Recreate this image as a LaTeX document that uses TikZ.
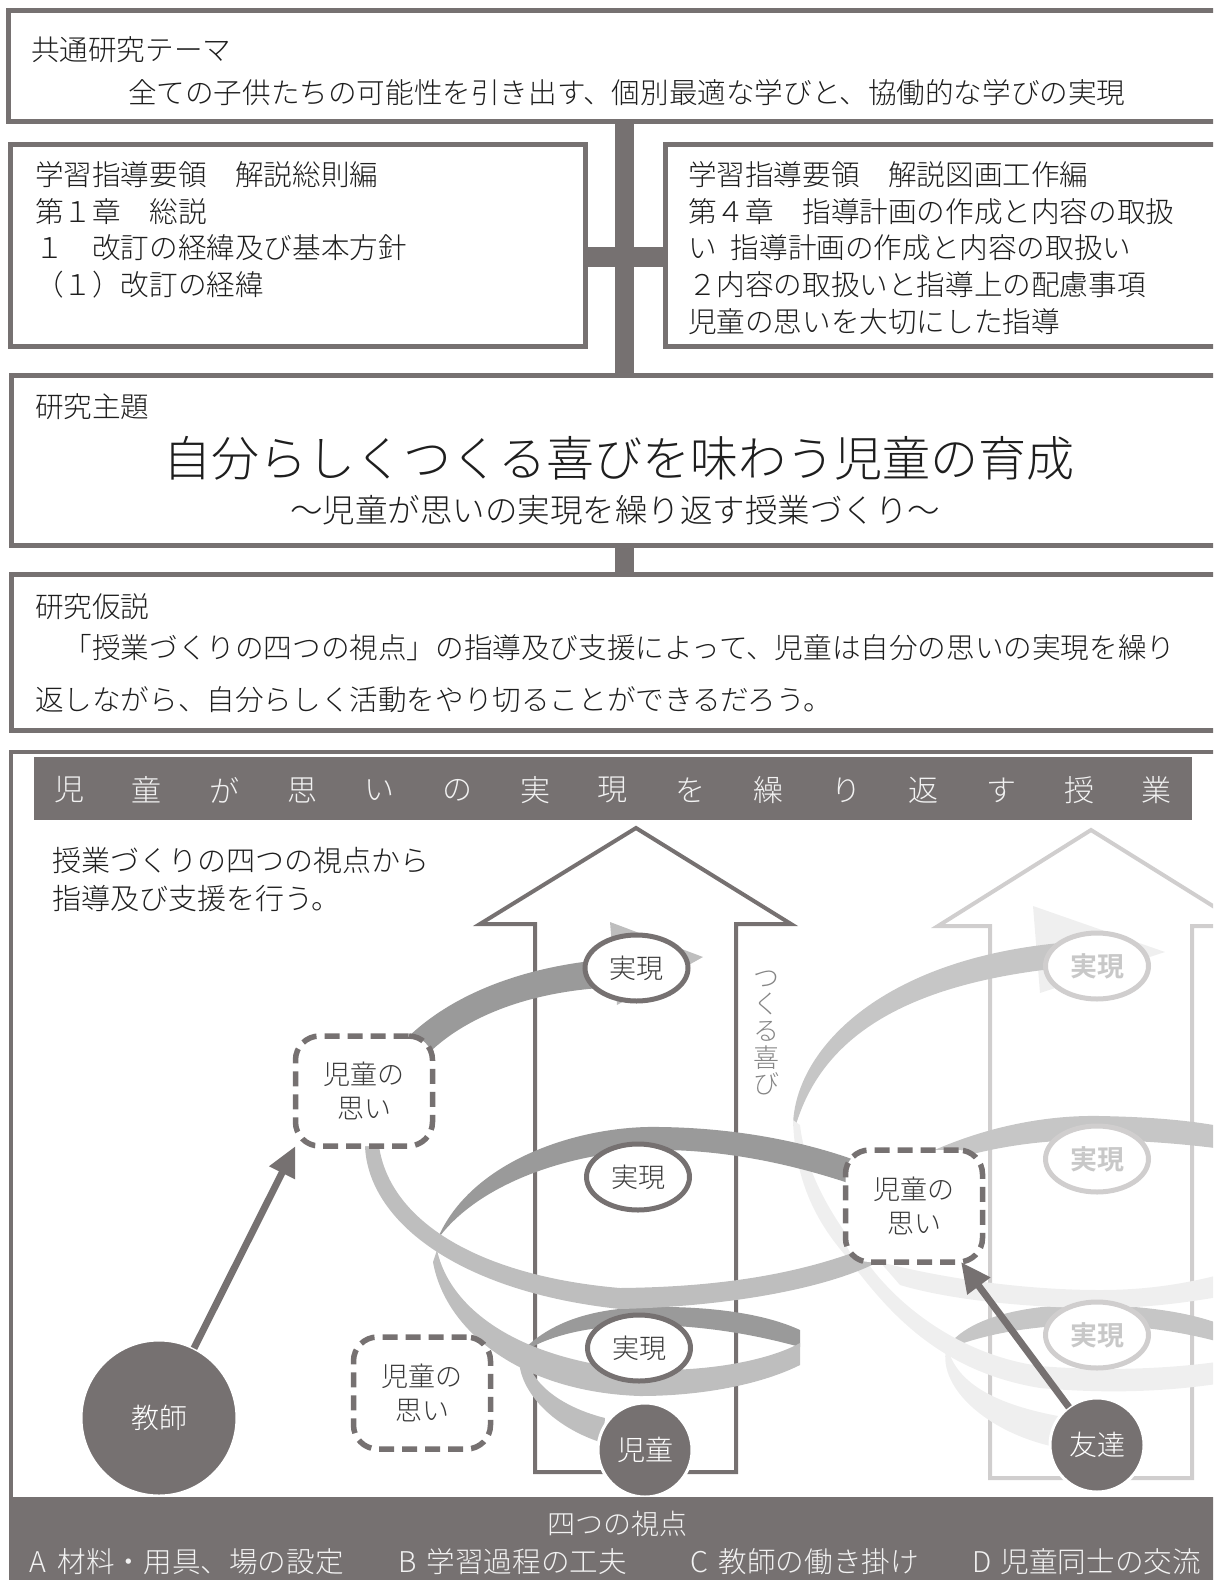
\documentclass[tikz,border=0pt]{standalone}
\usepackage{fontspec}
\setmainfont{Noto Sans CJK JP}[UprightFont=* Light,BoldFont=* Bold]
\usetikzlibrary{shapes.geometric,arrows.meta,calc}
\definecolor{dg}{HTML}{767171}
\definecolor{tx}{HTML}{1E1E1E}
\definecolor{tx2}{HTML}{3A3A3A}
\definecolor{ribD}{HTML}{9A9A9A}
\definecolor{ribL}{HTML}{BEBEBE}
\definecolor{RB}{HTML}{C6C6C6}
\definecolor{RF}{HTML}{EFEFEF}
\definecolor{lgb}{HTML}{D0CECE}
\definecolor{lgt}{HTML}{C8C8C8}
\definecolor{joyc}{HTML}{858585}
\newcommand\fsz[1]{\fontsize{#1bp}{#1bp}\selectfont}
\begin{document}
\begin{tikzpicture}[x=1bp,y=-1bp,
  every node/.style={inner sep=0pt,outer sep=0pt},
  frame/.style={rectangle,draw=dg,line width=5bp},
  lbl/.style={anchor=west,text=tx,font=\fsz{28.6}},
  realize/.style={ellipse,draw=dg,fill=white,line width=5bp,minimum width=103bp,minimum height=66bp,text=tx2,font=\fsz{27}},
  realizeL/.style={realize,draw=lgb,text=lgt,font=\fsz{27}\bfseries},
  omoi/.style={rectangle,rounded corners=24bp,draw=dg,fill=white,line width=5.5bp,dash pattern=on 15bp off 8bp,minimum width=137bp,minimum height=110bp,align=center,text=tx2,font=\fontsize{27bp}{34bp}\selectfont},
  person/.style={circle,fill=dg,draw=white,line width=3bp,text=white,font=\fsz{28}},
  parrow/.style={draw=dg,line width=7bp,-{Triangle[length=30bp,width=27bp]}},
  bigarrow/.style={line width=4bp,line join=miter},
  bannertxt/.style={text=white!95!black,font=\fsz{30}}
]
\useasboundingbox (0,0) rectangle (1213,1580);
\clip (0,0) rectangle (1213,1580);

% ---------- upper boxes ----------
\node[frame,minimum width=1221bp,minimum height=110bp] (topbox) at (619.5,66) {};
\node[frame,minimum width=575bp,minimum height=202bp] (leftbox) at (298,245.5) {};
\node[frame,minimum width=564.5bp,minimum height=202bp] (rightbox) at (947.75,245.5) {};
\node[frame,minimum width=1218.5bp,minimum height=170bp] (themebox) at (620.75,460.5) {};
\node[frame,minimum width=1218.5bp,minimum height=156bp] (hypobox) at (620.75,652.5) {};
\coordinate (spine) at (624.5,0);
\draw[dg,line width=19bp] (topbox.south -| spine) -- (themebox.north -| spine);
\draw[dg,line width=19bp] (themebox.south -| spine) -- (hypobox.north -| spine);
\draw[dg,line width=20bp] ($(leftbox.east)+(0,11.5)$) -- ($(rightbox.west)+(0,11.5)$);

\node[lbl] (t1) at (31,50) {共通研究テーマ};
\node[lbl] (t2) at (128,93) {全ての子供たちの可能性を引き出す、個別最適な学びと、協働的な学びの実現};

\node[lbl] (l1) at (35,175) {学習指導要領　解説総則編};
\node[lbl] (l2) at (35,212) {第１章　総説};
\node[lbl] (l3) at (35,248) {１　改訂の経緯及び基本方針};
\node[lbl] (l4) at (35,285) {（１）改訂の経緯};

\node[lbl] (r1) at (688,175) {学習指導要領　解説図画工作編};
\node[lbl] (r2) at (688,212) {第４章　指導計画の作成と内容の取扱};
\node[lbl] (r3) at (688,248) {い\hspace{0.5em}指導計画の作成と内容の取扱い};
\node[lbl] (r4) at (688,285) {２内容の取扱いと指導上の配慮事項};
\node[lbl] (r5) at (688,322) {児童の思いを大切にした指導};

\node[lbl] (th1) at (35,407) {研究主題};
\node[text=tx,font=\fsz{48}] (th2) at (619,458) {自分らしくつくる喜びを味わう児童の育成};
\node[text=tx,font=\fsz{32.5}] (th3) at (615,510) {～児童が思いの実現を繰り返す授業づくり～};

\node[lbl] (h1) at (35,607) {研究仮説};
\node[lbl] (h2) at (35,648) {　「授業づくりの四つの視点」の指導及び支援によって、児童は自分の思いの実現を繰り};
\node[lbl] (h3) at (35,700) {返しながら、自分らしく活動をやり切ることができるだろう。};

% ---------- lower panel ----------
\node[draw=dg,line width=4bp,minimum width=1219bp,minimum height=838bp] (mainbox) at (620.5,1171) {};
\node[fill=dg,minimum width=1158.5bp,minimum height=63bp,anchor=north west] (topbar) at (33.5,757) {};
\foreach \c [count=\i from 0] in {児,童,が,思,い,の,実,現,を,繰,り,返,す,授,業}
  \node[bannertxt] (b\i) at (69+77.7*\i,790) {\c};

\node[lbl,font=\fsz{29}] (p1) at (52,860) {授業づくりの四つの視点から};
\node[lbl,font=\fsz{29}] (p2) at (52,898) {指導及び支援を行う。};

% big arrows
\draw[bigarrow,dg] (636,828) -- (791,924) -- (736,924) -- (736,1472) -- (535,1472) -- (535,924) -- (480,924) -- cycle;
\draw[bigarrow,lgb] (1091,830) -- (1245,926) -- (1192,926) -- (1192,1478) -- (990,1478) -- (990,926) -- (938,926) -- cycle;

\node[text=joyc,font=\fontsize{26bp}{26.6bp}\selectfont,align=center] (joy) at (766,1033) {つ\\く\\る\\喜\\び};

% ---------- right spiral ----------
\fill[RF] (1033,906) -- (1165,952) -- (1040,993) -- cycle;
\fill[RB] (793,1125) .. controls (795,1050) and (880,960) .. (1060,943) -- (1060,968) .. controls (900,985) and (820,1040) .. (795,1128) -- cycle;
\fill[RB] (930,1152) .. controls (990,1125) and (1050,1115) .. (1100,1116) .. controls (1150,1117) and (1190,1120) .. (1230,1128) -- (1230,1150) .. controls (1180,1143) and (1130,1140) .. (1090,1140) .. controls (1030,1140) and (980,1150) .. (935,1165) -- cycle;
\fill[RB] (945,1350) .. controls (970,1310) and (1050,1303) .. (1100,1305) .. controls (1160,1307) and (1200,1315) .. (1230,1328) -- (1230,1345) .. controls (1180,1330) and (1130,1325) .. (1090,1325) .. controls (1030,1325) and (980,1335) .. (945,1350) -- cycle;
\fill[RF] (880,1262) .. controls (950,1280) and (1030,1290) .. (1100,1290) .. controls (1150,1290) and (1190,1283) .. (1230,1272) -- (1230,1295) .. controls (1190,1302) and (1150,1308) .. (1100,1308) .. controls (1030,1308) and (950,1300) .. (900,1285) -- cycle;
\fill[RF] (793,1120) .. controls (795,1180) and (815,1220) .. (845,1255) .. controls (880,1300) and (930,1370) .. (1040,1388) .. controls (1120,1395) and (1180,1390) .. (1230,1382) -- (1230,1360) .. controls (1180,1368) and (1110,1372) .. (1040,1366) .. controls (960,1355) and (895,1305) .. (862,1255) .. controls (830,1215) and (805,1170) .. (800,1125) -- cycle;
\fill[RF] (947,1345) .. controls (935,1385) and (985,1432) .. (1055,1447) -- (1058,1416) .. controls (1000,1405) and (955,1385) .. (947,1345) -- cycle;

% ---------- left spiral ----------
\fill[ribL] (610,922) -- (703,957) -- (617,1005) -- cycle;
\fill[ribD] (437,1240) .. controls (470,1160) and (580,1125) .. (660,1127) .. controls (740,1128) and (810,1143) .. (860,1162) -- (860,1187) .. controls (800,1166) and (730,1150) .. (660,1150) .. controls (580,1150) and (480,1180) .. (437,1240) -- cycle;
\fill[ribD] (523,1350) .. controls (555,1318) and (600,1308) .. (650,1307) .. controls (720,1306) and (770,1316) .. (800,1330) -- (800,1347) .. controls (760,1336) and (710,1326) .. (650,1325) .. controls (600,1325) and (555,1332) .. (523,1352) -- cycle;
\fill[ribD] (405,1040) .. controls (450,995) and (520,968) .. (600,960) -- (600,988) .. controls (530,993) and (470,1015) .. (432,1050) -- cycle;
\fill[ribL] (437,1250) .. controls (450,1310) and (520,1360) .. (640,1370) .. controls (720,1372) and (775,1357) .. (800,1343) -- (800,1365) .. controls (760,1385) and (700,1396) .. (640,1396) .. controls (520,1392) and (445,1330) .. (433,1262) -- cycle;
\fill[ribL] (521,1345) .. controls (510,1380) and (545,1425) .. (603,1443) -- (605,1418) .. controls (565,1408) and (528,1385) .. (525,1350) -- cycle;
\fill[ribL] (365,1146) .. controls (368,1222) and (460,1292) .. (620,1309) .. controls (740,1306) and (830,1286) .. (876,1263) -- (868,1247) .. controls (800,1274) and (720,1287) .. (620,1288) .. controls (480,1276) and (390,1222) .. (379,1146) -- cycle;

% ---------- nodes ----------
\node[realize] (g1) at (636.5,968) {実現};
\node[realize] (g2) at (638,1177) {実現};
\node[realize] (g3) at (639,1348) {実現};
\node[realizeL] (f1) at (1097,966) {実現};
\node[realizeL] (f2) at (1097,1159) {実現};
\node[realizeL] (f3) at (1097,1335) {実現};

\node[omoi] (omoi1) at (364,1091) {児童の\\思い};
\node[omoi,minimum height=112bp] (omoi2) at (914,1206) {児童の\\思い};
\node[omoi,minimum height=112bp] (omoi3) at (422,1393) {児童の\\思い};

\node[person,minimum size=156bp] (teacher) at (159,1418) {教師};
\node[person,minimum size=94bp] (child) at (645,1450) {児童};
\node[person,minimum size=94bp] (friend) at (1097,1445) {友達};

\draw[parrow] (teacher) -- (omoi1.south west);
\draw[parrow] (friend) -- (omoi2.-50);

% ---------- bottom bar ----------
\node[fill=dg,minimum width=1225bp,minimum height=90bp,anchor=north west] (viewbar) at (9,1497) {};
\node[bannertxt,font=\fsz{28}] (v0) at (617,1524) {四つの視点};
\node[bannertxt,font=\fsz{28.6},anchor=west] (v1) at (29,1562) {\makebox[1em][l]{A}材料・用具、場の設定};
\node[bannertxt,font=\fsz{28.6},anchor=west] (v2) at (398,1562) {\makebox[1em][l]{B}学習過程の工夫};
\node[bannertxt,font=\fsz{28.6},anchor=west] (v3) at (690,1562) {\makebox[1em][l]{C}教師の働き掛け};
\node[bannertxt,font=\fsz{28.6},anchor=west] (v4) at (972,1562) {\makebox[1em][l]{D}児童同士の交流};
\end{tikzpicture}
\end{document}
